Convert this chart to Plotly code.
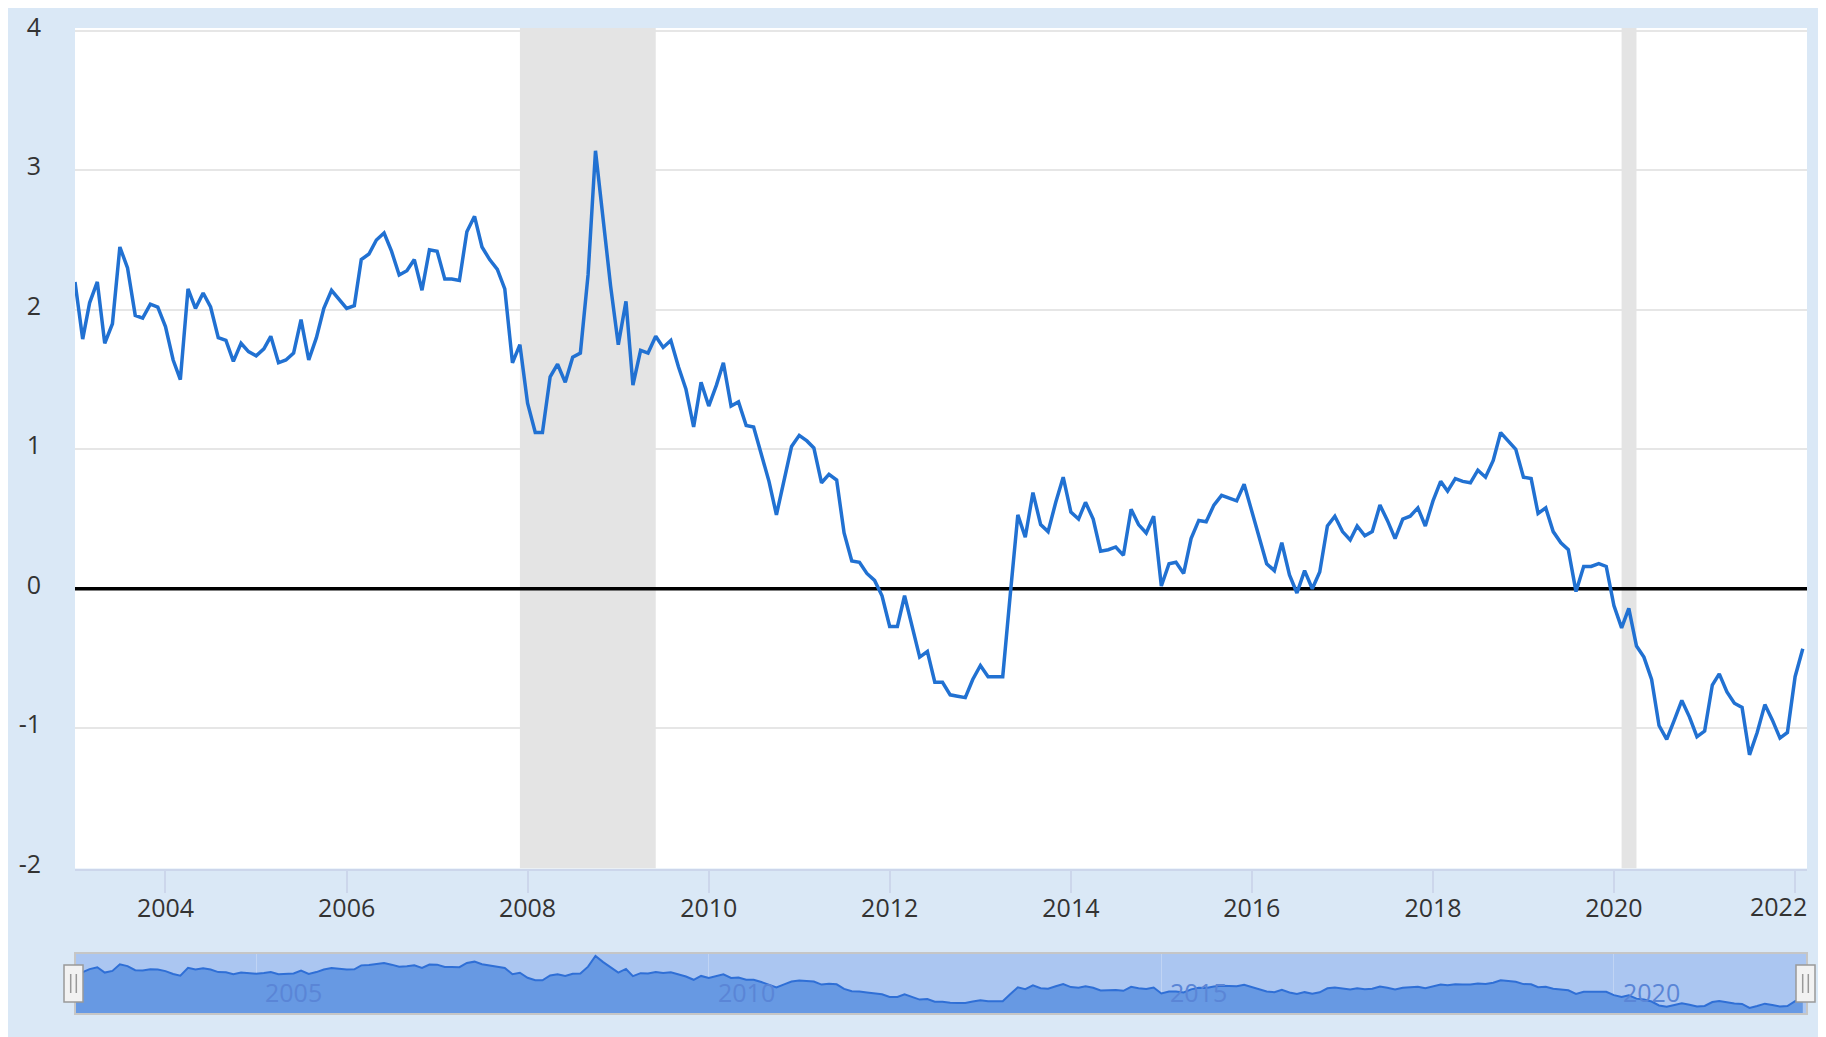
import pandas as pd
import plotly.graph_objects as go

# ---------------- data (monthly) ----------------
START = "2003-01-01"
v2003 = [2.20, 1.79, 2.05, 2.20, 1.76, 1.90, 2.45, 2.30, 1.96, 1.94, 2.04, 2.02]
v2004 = [1.88, 1.64, 1.50, 2.15, 2.01, 2.12, 2.02, 1.80, 1.78, 1.63, 1.76, 1.70]
v2005 = [1.67, 1.72, 1.81, 1.62, 1.64, 1.69, 1.93, 1.64, 1.80, 2.01, 2.14, 2.08]
v2006 = [2.01, 2.03, 2.36, 2.40, 2.50, 2.55, 2.42, 2.25, 2.28, 2.36, 2.14, 2.43]
v2007 = [2.42, 2.22, 2.22, 2.21, 2.56, 2.67, 2.45, 2.36, 2.29, 2.15, 1.62, 1.75]
v2008 = [1.33, 1.12, 1.12, 1.52, 1.61, 1.48, 1.66, 1.69, 2.25, 3.14, 2.63, 2.17]
v2009 = [1.75, 2.06, 1.46, 1.71, 1.69, 1.81, 1.73, 1.78, 1.59, 1.43, 1.16, 1.48]
v2010 = [1.31, 1.46, 1.62, 1.31, 1.34, 1.17, 1.16, 0.97, 0.77, 0.53, 0.78, 1.02]
v2011 = [1.10, 1.06, 1.01, 0.76, 0.82, 0.78, 0.40, 0.20, 0.19, 0.11, 0.06, -0.05]
v2012 = [-0.27, -0.27, -0.05, -0.28, -0.49, -0.45, -0.67, -0.67, -0.76, -0.77, -0.78, -0.65]
v2013 = [-0.55, -0.63, -0.63, -0.63, -0.05, 0.53, 0.37, 0.69, 0.46, 0.41, 0.62, 0.80]
v2014 = [0.55, 0.50, 0.62, 0.50, 0.27, 0.28, 0.30, 0.24, 0.57, 0.46, 0.40, 0.52]
v2015 = [0.02, 0.18, 0.19, 0.11, 0.36, 0.49, 0.48, 0.60, 0.67, 0.65, 0.63, 0.75]
v2016 = [0.56, 0.36, 0.18, 0.13, 0.33, 0.10, -0.03, 0.13, 0.00, 0.12, 0.45, 0.52]
v2017 = [0.41, 0.35, 0.45, 0.38, 0.41, 0.60, 0.49, 0.36, 0.50, 0.52, 0.58, 0.45]
v2018 = [0.63, 0.77, 0.70, 0.79, 0.77, 0.76, 0.85, 0.80, 0.92, 1.12, 1.06, 1.00]
v2019 = [0.80, 0.79, 0.54, 0.58, 0.41, 0.33, 0.28, -0.02, 0.16, 0.16, 0.18, 0.16]
v2020 = [-0.12, -0.28, -0.14, -0.41, -0.49, -0.65, -0.98, -1.08, -0.94, -0.80, -0.92, -1.06]
v2021 = [-1.02, -0.69, -0.61, -0.74, -0.82, -0.85, -1.19, -1.03, -0.83, -0.94, -1.07, -1.03]
v2022 = [-0.63, -0.43]

values = (v2003 + v2004 + v2005 + v2006 + v2007 + v2008 + v2009 + v2010 + v2011 +
          v2012 + v2013 + v2014 + v2015 + v2016 + v2017 + v2018 + v2019 + v2020 +
          v2021 + v2022)
dates = pd.date_range(START, periods=len(values), freq="MS")

# recessions (shaded)
REC_START = ["2007-12-01", "2020-02-01"]
REC_END = ["2009-06-01", "2020-04-01"]

# axis ticks
X_TICK_YEARS = [2004, 2006, 2008, 2010, 2012, 2014, 2016, 2018, 2020, 2022]
Y_TICKS = [-2, -1, 0, 1, 2, 3, 4]
NAV_TICK_YEARS = [2005, 2010, 2015, 2020]

# ---------------- style ----------------
BG = "#dae8f6"
LINE = "#2171d2"
GRID = "#e6e6e6"
AXIS = "#ccd6eb"
REC = "#e4e4e4"
TXT = "#333333"
FONT = "Open Sans"
NAV_MASK = "#abc6f1"
NAV_FILL = "#6799e3"
NAV_LINE = "#2f6fd6"
NAV_FLOOR, NAV_CEIL = -1.69, 3.39
X_RANGE = ["2003-01-01", "2022-02-18"]
Y_RANGE = [-2.005, 4.02]

# figure coordinates (page offset of 8px by the browser body margin)
W, H = 1826, 1037
ML, MR, MT, MB = 67, 27, 20, 31
PH = H - MT - MB
PW = W - ML - MR
NAV_BOTTOM = H - MB          # 1006
MAIN_BOTTOM_PX = 860.5
NAV_TOP_PX = 945
main_bottom = (NAV_BOTTOM - MAIN_BOTTOM_PX) / PH
nav_top = (NAV_BOTTOM - NAV_TOP_PX) / PH

fig = go.Figure()

# recession bands (drawn as filled traces so they sit above the grid)
for s, e in zip(REC_START, REC_END):
    fig.add_trace(go.Scatter(
        x=[s, s, e, e], y=[Y_RANGE[0], Y_RANGE[1], Y_RANGE[1], Y_RANGE[0]],
        mode="lines", fill="toself", fillcolor=REC, line=dict(width=0, color=REC),
        xaxis="x", yaxis="y", showlegend=False, hoverinfo="skip"))

# zero reference line
fig.add_trace(go.Scatter(
    x=X_RANGE, y=[0, 0], mode="lines", line=dict(color="black", width=3.5),
    xaxis="x", yaxis="y", showlegend=False, hoverinfo="skip"))

fig.add_trace(go.Scatter(
    x=dates, y=values, mode="lines",
    line=dict(color=LINE, width=3.5),
    xaxis="x", yaxis="y", showlegend=False, hoverinfo="x+y"))

# navigator baseline + area
fig.add_trace(go.Scatter(
    x=[dates[0], dates[-1]], y=[NAV_FLOOR, NAV_FLOOR], mode="lines",
    line=dict(width=0, color=NAV_FILL), xaxis="x2", yaxis="y2",
    showlegend=False, hoverinfo="skip"))
fig.add_trace(go.Scatter(
    x=dates, y=values, mode="lines", fill="tonexty", fillcolor=NAV_FILL,
    line=dict(color=NAV_LINE, width=2), xaxis="x2", yaxis="y2",
    showlegend=False, hoverinfo="skip"))

shapes = []
# navigator background (mask) + outline
shapes.append(dict(type="rect", xref="paper", yref="paper",
                   x0=0, x1=1, y0=0, y1=nav_top, fillcolor=NAV_MASK,
                   line=dict(width=0), layer="below"))
shapes.append(dict(type="rect", xref="paper", yref="paper",
                   x0=0, x1=1, y0=0, y1=nav_top, fillcolor="rgba(0,0,0,0)",
                   line=dict(width=2, color="#c6c6c6"), layer="above"))
# navigator handles
for cx in (ML - 1.5, W - MR - 1.5):
    x0 = (cx - 9.5 - ML) / PW
    x1 = (cx + 9.5 - ML) / PW
    shapes.append(dict(type="rect", xref="paper", yref="paper",
                       x0=x0, x1=x1, y0=(NAV_BOTTOM - 994) / PH, y1=(NAV_BOTTOM - 957) / PH,
                       fillcolor="#f2f2f2", line=dict(width=1.5, color="#999999"),
                       layer="above"))
    for dx in (-2.8, 2.8):
        xx = (cx + dx - ML) / PW
        shapes.append(dict(type="line", xref="paper", yref="paper",
                           x0=xx, x1=xx, y0=(NAV_BOTTOM - 985) / PH, y1=(NAV_BOTTOM - 966) / PH,
                           line=dict(width=1.5, color="#999999"), layer="above"))

annotations = []
for yr in NAV_TICK_YEARS:
    annotations.append(dict(x=f"{yr}-01-01", xref="x2", y=0, yref="paper",
                            text=str(yr), showarrow=False, xanchor="left",
                            yanchor="bottom", xshift=7, yshift=3,
                            font=dict(family=FONT, size=25, color="#5a85d6")))

tickfont = dict(family=FONT, size=25, color=TXT)

# the last year label is pulled inside the plot edge (as the reference does),
# so it is written as an annotation at its tick instead of a tick label
x_ticktext = [str(y) for y in X_TICK_YEARS]
last_label = x_ticktext[-1]
x_ticktext[-1] = ""
annotations.append(dict(x=f"{X_TICK_YEARS[-1]}-01-01", xref="x", y=main_bottom,
                        yref="paper", text=last_label, showarrow=False,
                        xanchor="center", yanchor="middle", xshift=-17,
                        yshift=-37.5, font=tickfont))

fig.update_layout(
    width=W, height=H,
    margin=dict(l=ML, r=MR, t=MT, b=MB, autoexpand=False),
    paper_bgcolor=BG, plot_bgcolor="white",
    showlegend=False,
    shapes=shapes, annotations=annotations,
    xaxis=dict(domain=[0, 1], anchor="y", type="date", range=X_RANGE,
               tickvals=[f"{y}-01-01" for y in X_TICK_YEARS],
               ticktext=x_ticktext,
               ticks="outside", ticklen=22, tickwidth=2, tickcolor=AXIS,
               showline=True, linecolor=AXIS, linewidth=2,
               showgrid=False, zeroline=False, tickfont=tickfont,
               ticklabelstandoff=-6, automargin=False, fixedrange=True),
    yaxis=dict(domain=[main_bottom, 1], anchor="x", range=Y_RANGE,
               tickvals=Y_TICKS, ticktext=[str(v) for v in Y_TICKS],
               showgrid=True, gridcolor=GRID, gridwidth=2,
               zeroline=False, showline=False, ticks="", tickfont=tickfont,
               ticklabelstandoff=33, ticklabelshift=-4, automargin=False,
               fixedrange=True),
    xaxis2=dict(domain=[0, 1], anchor="y2", type="date", range=X_RANGE,
                tickvals=[f"{y}-01-01" for y in NAV_TICK_YEARS],
                showticklabels=False, ticks="", showline=False,
                showgrid=True, gridcolor="rgba(255,255,255,0.25)", gridwidth=1,
                zeroline=False, automargin=False, fixedrange=True),
    yaxis2=dict(domain=[0, nav_top], anchor="x2", range=[NAV_FLOOR, NAV_CEIL],
                showticklabels=False, showgrid=False, zeroline=False,
                ticks="", showline=False, automargin=False, fixedrange=True),
)

fig.write_html("out.html")
